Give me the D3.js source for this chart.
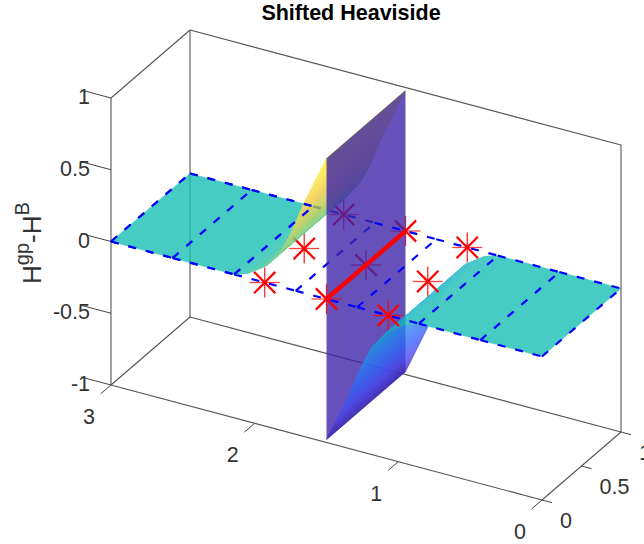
<!DOCTYPE html>
<html><head><meta charset="utf-8">
<style>html,body{margin:0;padding:0;background:#fff}svg{display:block}text{font-family:"Liberation Sans",Arial,sans-serif}</style>
<script src="https://cdn.jsdelivr.net/npm/d3@7/dist/d3.min.js"></script>
</head><body><svg id="c" width="644" height="544"></svg>
<script>
const chartTitle = "Shifted Heaviside";
const xTicks = [0, 1, 2, 3];
const yTicks = [0, 0.5, 1];
const zTicks = [-1, -0.5, 0, 0.5, 1];
const gridX = [3, 2.571, 2.143, 1.714, 1.286, 0.857, 0.429, 0];
const edgeY = [0, 1];
const starX = [1.93, 1.5, 1.07];
const starY = [0, 0.5, 1];
const stepX = [1.5];
const leftX = [3, 2.571, 2.143, 2.05, 1.92, 1.817, 1.747, 1.664, 1.58, 1.5];
const leftZ = [0, 0, 0, 0.03, 0.118, 0.25, 0.394, 0.61, 0.8, 0.98];
const rightX = [1.5, 1.42, 1.336, 1.253, 1.183, 1.08, 0.95, 0.857, 0.429, 0];
const rightZ = [-0.98, -0.8, -0.61, -0.394, -0.25, -0.118, -0.03, 0, 0, 0];
const cmapT = [0, 0.1, 0.2, 0.3, 0.4, 0.5, 0.6, 0.7, 0.8, 0.9, 1];
const cmapC = ["#3e26a8","#4746ed","#3264fa","#2387f0","#0fa8d7","#18c0b4","#64c878","#b4c846","#f5c83c","#fae632","#f9fb15"];

const svg = d3.select("#c");
const px = d3.scaleLinear().domain([0, 3]).range([0, -431]);
const py = d3.scaleLinear().domain([0, 1]).range([0, 79]);
const qx = d3.scaleLinear().domain([0, 3]).range([0, -115]);
const qy = d3.scaleLinear().domain([0, 1]).range([0, -68]);
const qz = d3.scaleLinear().domain([-1, 1]).range([143.5, -143.5]);
const P = (x, y, z) => [542 + px(x) + py(y), 356.5 + qx(x) + qy(y) + qz(z)];
const color = d3.scaleLinear().domain(cmapT.map(t => t * 2 - 1)).range(cmapC);
const path = pts => "M" + pts.map(p => p.map(v => v.toFixed(2)).join(",")).join("L");
const line3 = (g, a, b, attrs) => {
  const s = g.append("path").attr("d", path([P(...a), P(...b)])).attr("fill", "none");
  Object.entries(attrs).forEach(([k, v]) => s.attr(k, v));
  return s;
};

// box
const gAxes = svg.append("g");
const boxStyle = {stroke: "#555", "stroke-width": 1.1};
[[[3,1,-1],[3,1,1]], [[3,1,1],[0,1,1]], [[3,1,-1],[0,1,-1]], [[0,1,-1],[0,1,1]], [[3,0,1],[3,1,1]],
 [[3,0,-1],[3,0,1]], [[3,0,-1],[0,0,-1]], [[0,0,-1],[0,1,-1]], [[3,0,-1],[3,1,-1]]]
  .forEach(([a, b]) => line3(gAxes, a, b, boxStyle));

// ticks
const tickStyle = {stroke: "#444", "stroke-width": 1};
zTicks.forEach(z => line3(gAxes, [3, 0, z], [3.21, 0, z], tickStyle));
xTicks.forEach(x => line3(gAxes, [x, 0, -1], [x, -0.13, -1], tickStyle));
yTicks.forEach(y => line3(gAxes, [0, y, -1], [-0.07, y, -1], tickStyle));

const tickText = (x, y, t, anchor) => svg.append("text").attr("x", x).attr("y", y)
  .attr("text-anchor", anchor).attr("dominant-baseline", "central")
  .attr("font-size", 21.5).attr("fill", "#333").text(t);
zTicks.forEach(z => { const p = P(3, 0, z); tickText(p[0] - 21, p[1] - 1, String(z), "end"); });
xTicks.forEach(x => { const p = P(x, 0, -1); tickText(p[0] - 22, p[1] + 32, String(x), "middle"); });
yTicks.forEach(y => { const p = P(0, y, -1); tickText(p[0] + 18, p[1] + 21, String(y), "start"); });

// title and z label
svg.append("text").attr("x", 351).attr("y", 20).attr("text-anchor", "middle")
  .attr("font-size", 21.5).attr("font-weight", "bold").attr("fill", "#000").text(chartTitle);
const zl = svg.append("text").attr("transform", "translate(41,243) rotate(-90)")
  .attr("text-anchor", "middle").attr("font-size", 26).attr("fill", "#333");
zl.append("tspan").text("H");
zl.append("tspan").attr("dy", -12).attr("font-size", 20).text("gp");
zl.append("tspan").attr("dy", 12).text("-H");
zl.append("tspan").attr("dy", -12).attr("font-size", 20).text("B");

// mesh dashes, split by depth relative to the step
const dash = {stroke: "#0000ff", "stroke-width": 2.2, "stroke-dasharray": "8 10"};
const drawMesh = (g, test) => {
  gridX.filter(test).forEach(x => line3(g, [x, 0, 0], [x, 1, 0], dash));
  edgeY.forEach(y => d3.pairs(gridX).filter(([a, b]) => test((a + b) / 2))
    .forEach(([a, b]) => line3(g, [a, y, 0], [b, y, 0], dash)));
};
const star = (g, x, y) => {
  const [cx, cy] = P(x, y, 0), r = 15;
  [[1, 0, 1.3, 0.75], [0, 1, 1.3, 0.85], [0.71, 0.71, 2.2, 1], [0.71, -0.71, 2.2, 1]].forEach(([dx, dy, w, o]) =>
    g.append("line").attr("x1", cx - dx * r).attr("y1", cy - dy * r).attr("x2", cx + dx * r).attr("y2", cy + dy * r)
      .attr("stroke", "#ff0000").attr("stroke-width", w).attr("stroke-opacity", o));
};

const surface = (xs, zs) => {
  const g = svg.append("g").attr("opacity", 0.8);
  d3.range(xs.length - 1).forEach(i => {
    const n = Math.abs(zs[i + 1] - zs[i]) > 0 ? 12 : 1;
    d3.range(n).forEach(k => {
      const a = k / n, b = (k + 1) / n;
      const x0 = xs[i] + (xs[i + 1] - xs[i]) * a, x1 = xs[i] + (xs[i + 1] - xs[i]) * b;
      const z0 = zs[i] + (zs[i + 1] - zs[i]) * a, z1 = zs[i] + (zs[i + 1] - zs[i]) * b;
      const c = color((z0 + z1) / 2);
      g.append("path").attr("d", path([P(x0, 0, z0), P(x1, 0, z1), P(x1, 1, z1), P(x0, 1, z0)]) + "Z")
        .attr("fill", c).attr("stroke", c).attr("stroke-width", 0.6).attr("stroke-linejoin", "round");
    });
  });
};

// back part: mesh, stars behind the step
const gBack = svg.append("g");
drawMesh(gBack, x => x > 1.5);
starY.forEach(y => star(gBack, starX[0], y));
star(gBack, starX[1], 0.5); star(gBack, starX[1], 1);
surface(leftX, leftZ);

// the vertical step
stepX.forEach(x => svg.append("path").attr("opacity", 0.8).attr("fill", color(-1))
  .attr("d", path([P(x, 0, -0.98), P(x, 1, -0.98), P(x, 1, 0.98), P(x, 0, 0.98)]) + "Z"));

surface(rightX, rightZ);

// front part
const gFront = svg.append("g");
drawMesh(gFront, x => x <= 1.5);
star(gFront, starX[1], 0);
starY.forEach(y => star(gFront, starX[2], y));
line3(gFront, [starX[1], 0, 0], [starX[1], 1, 0], {stroke: "#ff0000", "stroke-width": 4.4});
// re-mark the left mesh lines lying on the flat surface
drawMesh(gFront, x => x >= 2.143);
</script></body></html>
